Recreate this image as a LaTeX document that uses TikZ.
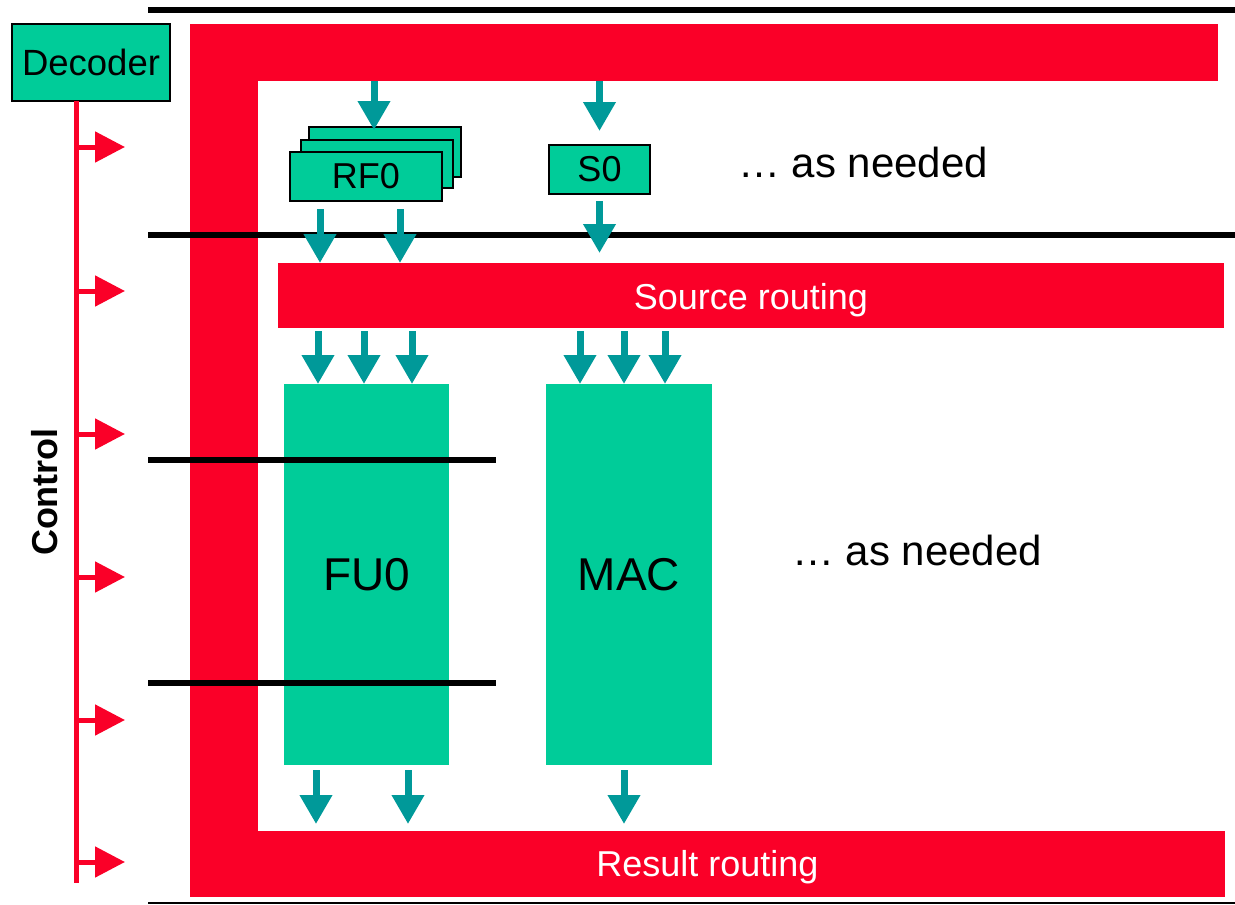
\documentclass[tikz,border=0pt]{standalone}
\usepackage{fontspec}
\setmainfont{Liberation Sans}
\usetikzlibrary{arrows.meta}
\definecolor{cred}{RGB}{250,0,40}
\definecolor{cgreen}{RGB}{0,204,153}
\definecolor{cteal}{RGB}{0,153,153}
\newcommand\fsz[1]{\fontsize{#1}{#1}\selectfont}
\begin{document}
\begin{tikzpicture}[x=1pt,y=-1pt,
  redbar/.style={fill=cred,inner sep=0pt,outer sep=0pt,text=white,font=\fsz{36}},
  greenbox/.style={fill=cgreen,draw=black,line width=2pt,inner sep=0pt,outer sep=0pt,font=\fsz{36}},
  unitbox/.style={fill=cgreen,inner sep=0pt,outer sep=0pt,font=\fsz{46}},
  stage/.style={black,line width=6pt},
  tarr/.style={cteal,line width=7pt,-{Triangle[width=31pt,length=29pt]}},
  carr/.style={cred,line width=5pt,-{Triangle[width=30pt,length=30pt]}},
  note/.style={font=\fsz{42},inner sep=0pt}]
\useasboundingbox (0,0) rectangle (1235,905);
% red routing
\node[redbar,minimum width=1028pt,minimum height=57pt] (rtop) at (704,52.5) {};
\node[redbar,minimum width=68pt,minimum height=873pt] (rleft) at (224,460.5) {};
\node[redbar,minimum width=946pt,minimum height=65pt] (src) at (751,295.5) {\raisebox{-13.5pt}[0pt][0pt]{Source routing}};
\node[redbar,minimum width=1035pt,minimum height=66pt] (res) at (707.5,864) {\raisebox{-12pt}[0pt][0pt]{Result routing}};
% boxes
\node[greenbox,minimum width=158pt,minimum height=77pt,font=\fsz{36.5}] (dec) at (91,62.5) {Decoder};
\node[greenbox,minimum width=152pt,minimum height=50pt] (rf0c) at (385,152) {};
\node[greenbox,minimum width=152pt,minimum height=48pt] (rf0b) at (377,164) {};
\node[greenbox,minimum width=152pt,minimum height=49pt] (rf0) at (366,176.5) {RF0};
\node[greenbox,minimum width=101pt,minimum height=49pt] (s0) at (599.5,169.5) {S0};
\node[unitbox,minimum width=165pt,minimum height=381pt] (fu) at (366.5,574.5) {FU0};
\node[unitbox,minimum width=166pt,minimum height=381pt] (mac) at (629,574.5) {MAC};
\node[note] (n1) at (863,162) {\dots\ as needed};
\node[note] (n2) at (917,550) {\dots\ as needed};
% stage lines
\draw[stage] (148,10) -- (1235,10);
\draw[stage] (148,235) -- (1235,235);
\draw[stage] (148,460) -- (496,460);
\draw[stage] (148,683) -- (496,683);
\draw[black,line width=2pt] (148,903) -- (1235,903);
% teal arrows
\draw[tarr] ([xshift=-11pt]rf0c.north |- rtop.south) -- ([xshift=-11pt,yshift=-3pt]rf0c.north);
\draw[tarr] (s0.north |- rtop.south) -- ([yshift=14pt]s0.north);
\foreach \dx in {-46,34}
  \draw[tarr] ([xshift=\dx pt,yshift=-8pt]rf0.south) -- ([xshift=\dx pt]rf0.south |- src.north);
\draw[tarr] ([yshift=-7pt]s0.south) -- ([yshift=10pt]s0.south |- src.north);
\foreach \dx in {-48.5,-2.5,45.5}
  \draw[tarr] ([xshift=\dx pt]fu.north |- src.south) ++(0,3) -- ([xshift=\dx pt]fu.north);
\foreach \dx in {-49,-5,36}
  \draw[tarr] ([xshift=\dx pt]mac.north |- src.south) ++(0,3) -- ([xshift=\dx pt]mac.north);
\foreach \dx in {-50.5,41.5}
  \draw[tarr] ([xshift=\dx pt,yshift=-5pt]fu.south) -- ([xshift=\dx pt,yshift=7pt]fu.south |- res.north);
\draw[tarr] ([xshift=-5pt,yshift=-5pt]mac.south) -- ([xshift=-5pt,yshift=7pt]mac.south |- res.north);
% control
\coordinate (cend) at (76,883);
\draw[cred,line width=5pt] ([xshift=-15pt]dec.south) -- (cend);
\foreach \y [count=\i] in {147,291,434,577,720,862} {
  \coordinate (cs\i) at (74,\y);
  \coordinate (ce\i) at (125,\y);
  \draw[carr] (cs\i) -- (ce\i);
}
\node[rotate=90,font=\fsz{36}\bfseries,inner sep=0pt] (ctl) at (45,492) {Control};
\end{tikzpicture}
\end{document}
